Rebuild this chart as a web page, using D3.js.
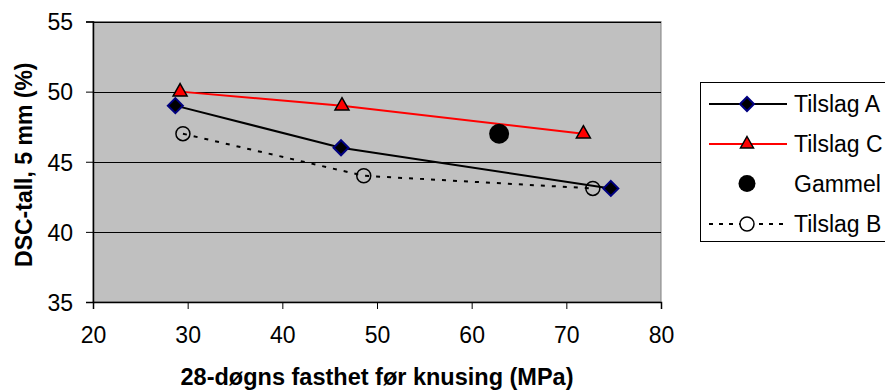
<!DOCTYPE html>
<html>
<head>
<meta charset="utf-8">
<script src="https://cdn.jsdelivr.net/npm/d3@7"></script>
<style>
  html, body { margin: 0; padding: 0; background: #fff; }
  svg { display: block; font-family: "Liberation Sans", Arial, sans-serif; }
</style>
</head>
<body>
<svg id="chart" width="885" height="391"></svg>
<script>
// ---- data ----
const seriesNames = ["Tilslag A", "Tilslag C", "Gammel", "Tilslag B"];
const tilslagA_x = [28.7, 46.2, 74.7];
const tilslagA_y = [49.0, 46.0, 43.1];
const tilslagC_x = [29.2, 46.3, 71.8];
const tilslagC_y = [50.0, 49.0, 47.0];
const gammel_x = [62.9];
const gammel_y = [47.0];
const tilslagB_x = [29.5, 48.6, 72.8];
const tilslagB_y = [47.0, 44.0, 43.1];
const xTicks = [20, 30, 40, 50, 60, 70, 80];
const yTicks = [35, 40, 45, 50, 55];
const xTitle = "28-døgns fasthet før knusing (MPa)";
const yTitle = "DSC-tall, 5 mm (%)";

const zip = (xs, ys) => xs.map((x, i) => ({x, y: ys[i]}));
const A = zip(tilslagA_x, tilslagA_y);
const C = zip(tilslagC_x, tilslagC_y);
const G = zip(gammel_x, gammel_y);
const B = zip(tilslagB_x, tilslagB_y);

// ---- layout ----
const plot = {left: 93, right: 661, top: 21.5, bottom: 302};
const svg = d3.select("#chart");

const x = d3.scaleLinear().domain([20, 80]).range([plot.left, plot.right]);
const y = d3.scaleLinear().domain([35, 55]).range([plot.bottom, plot.top]);

// plot background
svg.append("rect")
  .attr("x", plot.left).attr("y", plot.top)
  .attr("width", plot.right - plot.left).attr("height", plot.bottom - plot.top)
  .attr("fill", "#c0c0c0").attr("stroke", "#808080").attr("stroke-width", 1);

// gridlines
svg.append("g").selectAll("line").data(yTicks.filter(d => d > 35)).join("line")
  .attr("x1", plot.left).attr("x2", plot.right)
  .attr("y1", d => Math.round(y(d)) + 0.5).attr("y2", d => Math.round(y(d)) + 0.5)
  .attr("stroke", "#000").attr("stroke-width", 1);

// axes
const fontSize = 23;
const yAxis = svg.append("g")
  .attr("transform", `translate(${plot.left},0)`)
  .call(d3.axisLeft(y).tickValues(yTicks).tickSize(7).tickPadding(13).tickFormat(d3.format("d")));
const xAxis = svg.append("g")
  .attr("transform", `translate(0,${plot.bottom})`)
  .call(d3.axisBottom(x).tickValues(xTicks).tickSize(7).tickPadding(18).tickFormat(d3.format("d")));
[yAxis, xAxis].forEach(g => {
  g.select(".domain").attr("stroke", "#000").attr("stroke-width", 1.5);
  g.selectAll(".tick line").attr("stroke", "#000").attr("stroke-width", 1);
  g.selectAll(".tick text").attr("font-size", fontSize).attr("fill", "#000")
    .attr("font-family", "'Liberation Sans', Arial, sans-serif");
});
yAxis.selectAll(".tick text").attr("dy", "0.36em");

// axis titles
svg.append("text")
  .attr("x", (plot.left + plot.right) / 2).attr("y", 385)
  .attr("text-anchor", "middle").attr("font-size", 23.5).attr("font-weight", "bold")
  .text(xTitle);
svg.append("text")
  .attr("transform", `translate(32,${(plot.top + plot.bottom) / 2 + 3}) rotate(-90)`)
  .attr("text-anchor", "middle").attr("font-size", 23).attr("font-weight", "bold")
  .text(yTitle);

// lines
const line = d3.line().x(d => x(d.x)).y(d => y(d.y));
svg.append("path").datum(B).attr("d", line)
  .attr("fill", "none").attr("stroke", "#000").attr("stroke-width", 2).attr("stroke-dasharray", "4,7");
svg.append("path").datum(A).attr("d", line)
  .attr("fill", "none").attr("stroke", "#000").attr("stroke-width", 2);
svg.append("path").datum(C).attr("d", line)
  .attr("fill", "none").attr("stroke", "#ff0000").attr("stroke-width", 2);

// marker drawers
function diamond(g, cx, cy, r) {
  g.append("path")
    .attr("d", `M${cx},${cy - r}L${cx + r},${cy}L${cx},${cy + r}L${cx - r},${cy}Z`)
    .attr("fill", "#000").attr("stroke", "#000080").attr("stroke-width", 2);
}
function triangle(g, cx, cy, r) {
  g.append("path")
    .attr("d", `M${cx},${cy - r}L${cx + r},${cy + r * 0.75}L${cx - r},${cy + r * 0.75}Z`)
    .attr("fill", "#ff0000").attr("stroke", "#000").attr("stroke-width", 1.5);
}
function openCircle(g, cx, cy, r) {
  g.append("circle").attr("cx", cx).attr("cy", cy).attr("r", r)
    .attr("fill", "none").attr("stroke", "#000").attr("stroke-width", 1.5);
}
function dot(g, cx, cy, r) {
  g.append("circle").attr("cx", cx).attr("cy", cy).attr("r", r).attr("fill", "#000");
}

const markers = svg.append("g");
B.forEach(d => openCircle(markers, x(d.x), y(d.y), 7));
A.forEach(d => diamond(markers, x(d.x), y(d.y), 7.5));
C.forEach(d => triangle(markers, x(d.x), y(d.y) - 1, 7));
G.forEach(d => dot(markers, x(d.x), y(d.y), 10));

// legend
const leg = svg.append("g");
leg.append("rect").attr("x", 700.5).attr("y", 82.5).attr("width", 200).attr("height", 159)
  .attr("fill", "#fff").attr("stroke", "#000").attr("stroke-width", 1);
const legY = [104, 144, 183.5, 224];
const lx1 = 709, lx2 = 787, lmx = 747, ltx = 794;
seriesNames.forEach((name, i) => {
  const yy = legY[i];
  if (name === "Tilslag A") {
    leg.append("line").attr("x1", lx1).attr("x2", lx2).attr("y1", yy).attr("y2", yy)
      .attr("stroke", "#000").attr("stroke-width", 2);
    diamond(leg, lmx, yy, 7);
  } else if (name === "Tilslag C") {
    leg.append("line").attr("x1", lx1).attr("x2", lx2).attr("y1", yy).attr("y2", yy)
      .attr("stroke", "#ff0000").attr("stroke-width", 2);
    triangle(leg, lmx, yy - 1, 6.5);
  } else if (name === "Gammel") {
    dot(leg, lmx, yy, 8.5);
  } else {
    leg.append("line").attr("x1", lx1).attr("x2", lx2).attr("y1", yy).attr("y2", yy)
      .attr("stroke", "#000").attr("stroke-width", 2).attr("stroke-dasharray", "4,6");
    leg.append("circle").attr("cx", lmx).attr("cy", yy).attr("r", 7)
      .attr("fill", "#fff").attr("stroke", "#000").attr("stroke-width", 1.5);
  }
  leg.append("text").attr("x", ltx).attr("y", yy).attr("dy", "0.36em")
    .attr("font-size", fontSize).attr("fill", "#000").text(name);
});
</script>
</body>
</html>
